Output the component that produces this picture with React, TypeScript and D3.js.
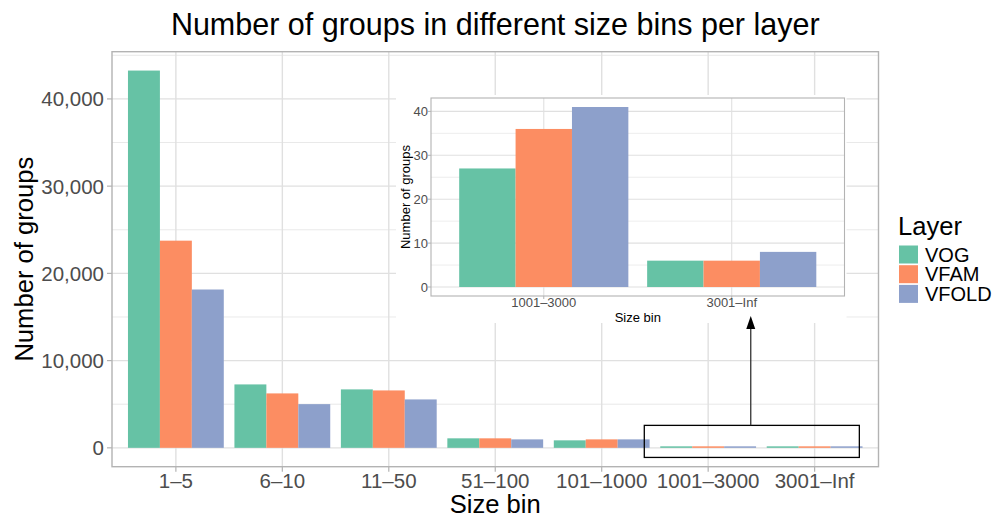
import React, { useEffect, useRef } from "react";
import * as d3 from "d3";

// size bins (x categories) and layers (dodged series)
const sizeBins = ["1–5", "6–10", "11–50", "51–100", "101–1000", "1001–3000", "3001–Inf"];
const layers = ["VOG", "VFAM", "VFOLD"];
const vogCounts = [43250, 7270, 6700, 1090, 860, 27, 6];
const vfamCounts = [23750, 6240, 6580, 1090, 970, 36, 6];
const vfoldCounts = [18150, 5010, 5550, 970, 970, 41, 8];
const layerColors = ["#66c2a5", "#fc8d62", "#8da0cb"];
const mainTicks = [0, 10000, 20000, 30000, 40000];
const mainMinorTicks = [5000, 15000, 25000, 35000, 45000];
// the zoomed inset shows the last two bins
const insetBins = ["1001–3000", "3001–Inf"];
const insetTicks = [0, 10, 20, 30, 40];
const insetMinorTicks = [5, 15, 25, 35];

const FONT = "'Liberation Sans', Arial, Helvetica, sans-serif";
const GRID = "#e0e0e0";
const BORDER = "#b3b3b3";
const TICK_TEXT = "#4d4d4d";

type Row = { bin: string; layer: string; value: number; color: string };

const App = () => {
  const ref = useRef<SVGSVGElement | null>(null);

  useEffect(() => {
    const width = 994;
    const height = 518;
    const svg = d3.select(ref.current);
    svg.selectAll("*").remove();

    const series = [vogCounts, vfamCounts, vfoldCounts];
    const rows: Row[] = [];
    sizeBins.forEach((bin, i) =>
      layers.forEach((layer, j) =>
        rows.push({ bin, layer, value: series[j][i], color: layerColors[j] })
      )
    );

    // ---- main panel ----
    const panel = { left: 112, right: 878.5, top: 51.7, bottom: 466.7 };
    const yMax = d3.max(rows, (d) => d.value) as number;

    const x = d3
      .scaleBand()
      .domain(sizeBins)
      .range([panel.left, panel.right])
      .paddingInner(0.1)
      .paddingOuter(0.15);
    const xInner = d3.scaleBand().domain(layers).range([0, x.bandwidth()]);
    const y = d3
      .scaleLinear()
      .domain([-0.05 * yMax, 1.05 * yMax])
      .range([panel.bottom, panel.top]);

    const main = svg.append("g");
    main
      .selectAll("line.minor")
      .data(mainMinorTicks.filter((t) => t <= y.domain()[1]))
      .enter()
      .append("line")
      .attr("x1", panel.left)
      .attr("x2", panel.right)
      .attr("y1", (d) => y(d))
      .attr("y2", (d) => y(d))
      .attr("stroke", GRID)
      .attr("stroke-width", 0.7);
    main
      .selectAll("line.major")
      .data(mainTicks)
      .enter()
      .append("line")
      .attr("x1", panel.left)
      .attr("x2", panel.right)
      .attr("y1", (d) => y(d))
      .attr("y2", (d) => y(d))
      .attr("stroke", GRID)
      .attr("stroke-width", 1.4);
    main
      .selectAll("line.vmajor")
      .data(sizeBins)
      .enter()
      .append("line")
      .attr("x1", (d) => (x(d) as number) + x.bandwidth() / 2)
      .attr("x2", (d) => (x(d) as number) + x.bandwidth() / 2)
      .attr("y1", panel.top)
      .attr("y2", panel.bottom)
      .attr("stroke", GRID)
      .attr("stroke-width", 1.4);

    // tiny bins still show as a hairline, as in the original render
    main
      .selectAll("rect.bar")
      .data(rows)
      .enter()
      .append("rect")
      .attr("x", (d) => (x(d.bin) as number) + (xInner(d.layer) as number))
      .attr("y", (d) => Math.min(y(d.value), y(0) - 1.5))
      .attr("width", xInner.bandwidth())
      .attr("height", (d) => Math.max(y(0) - y(d.value), 1.5))
      .attr("fill", (d) => d.color);

    main
      .append("rect")
      .attr("x", panel.left)
      .attr("y", panel.top)
      .attr("width", panel.right - panel.left)
      .attr("height", panel.bottom - panel.top)
      .attr("fill", "none")
      .attr("stroke", BORDER)
      .attr("stroke-width", 1.4);

    // y axis ticks + labels
    const fmt = d3.format(",");
    const yt = main.selectAll("g.yt").data(mainTicks).enter().append("g");
    yt.append("line")
      .attr("x1", panel.left - 5)
      .attr("x2", panel.left)
      .attr("y1", (d) => y(d))
      .attr("y2", (d) => y(d))
      .attr("stroke", BORDER)
      .attr("stroke-width", 1.2);
    yt.append("text")
      .attr("x", panel.left - 8)
      .attr("y", (d) => y(d))
      .attr("dy", "0.36em")
      .attr("text-anchor", "end")
      .attr("font-size", 20.5)
      .attr("fill", TICK_TEXT)
      .text((d) => fmt(d));

    // x axis ticks + labels
    const xt = main.selectAll("g.xt").data(sizeBins).enter().append("g");
    xt.append("line")
      .attr("x1", (d) => (x(d) as number) + x.bandwidth() / 2)
      .attr("x2", (d) => (x(d) as number) + x.bandwidth() / 2)
      .attr("y1", panel.bottom)
      .attr("y2", panel.bottom + 5)
      .attr("stroke", BORDER)
      .attr("stroke-width", 1.2);
    xt.append("text")
      .attr("x", (d) => (x(d) as number) + x.bandwidth() / 2)
      .attr("y", 488)
      .attr("text-anchor", "middle")
      .attr("font-size", 20.5)
      .attr("fill", TICK_TEXT)
      .text((d) => d);

    main
      .append("text")
      .attr("x", (panel.left + panel.right) / 2)
      .attr("y", 513)
      .attr("text-anchor", "middle")
      .attr("font-size", 25.6)
      .text("Size bin");
    main
      .append("text")
      .attr("transform", `translate(33, ${(panel.top + panel.bottom) / 2}) rotate(-90)`)
      .attr("text-anchor", "middle")
      .attr("font-size", 25.6)
      .text("Number of groups");

    // box around the tiny bins, in data units
    const xPos = (i: number) => (x(sizeBins[0]) as number) + x.bandwidth() / 2 + i * x.step();
    main
      .append("rect")
      .attr("x", xPos(4.4))
      .attr("y", y(2575))
      .attr("width", xPos(6.42) - xPos(4.4))
      .attr("height", y(-1100) - y(2575))
      .attr("fill", "none")
      .attr("stroke", "#000")
      .attr("stroke-width", 1.3);

    // ---- inset ----
    const ip = { left: 431, right: 844.5, top: 98, bottom: 296 };
    const insetRows = rows.filter((d) => insetBins.includes(d.bin));
    const iMax = d3.max(insetRows, (d) => d.value) as number;
    const ix = d3
      .scaleBand()
      .domain(insetBins)
      .range([ip.left, ip.right])
      .paddingInner(0.1)
      .paddingOuter(0.15);
    const ixInner = d3.scaleBand().domain(layers).range([0, ix.bandwidth()]);
    const iy = d3
      .scaleLinear()
      .domain([-0.05 * iMax, 1.05 * iMax])
      .range([ip.bottom, ip.top]);

    const inset = svg.append("g");
    inset
      .append("rect")
      .attr("x", ip.left - 35)
      .attr("y", ip.top - 3)
      .attr("width", ip.right - ip.left + 37)
      .attr("height", ip.bottom - ip.top + 30)
      .attr("fill", "#fff");
    inset
      .selectAll("line.minor")
      .data(insetMinorTicks)
      .enter()
      .append("line")
      .attr("x1", ip.left)
      .attr("x2", ip.right)
      .attr("y1", (d) => iy(d))
      .attr("y2", (d) => iy(d))
      .attr("stroke", GRID)
      .attr("stroke-width", 0.6);
    inset
      .selectAll("line.major")
      .data(insetTicks)
      .enter()
      .append("line")
      .attr("x1", ip.left)
      .attr("x2", ip.right)
      .attr("y1", (d) => iy(d))
      .attr("y2", (d) => iy(d))
      .attr("stroke", GRID)
      .attr("stroke-width", 1.1);
    inset
      .selectAll("line.vmajor")
      .data(insetBins)
      .enter()
      .append("line")
      .attr("x1", (d) => (ix(d) as number) + ix.bandwidth() / 2)
      .attr("x2", (d) => (ix(d) as number) + ix.bandwidth() / 2)
      .attr("y1", ip.top)
      .attr("y2", ip.bottom)
      .attr("stroke", GRID)
      .attr("stroke-width", 1.1);
    inset
      .selectAll("rect.bar")
      .data(insetRows)
      .enter()
      .append("rect")
      .attr("x", (d) => (ix(d.bin) as number) + (ixInner(d.layer) as number))
      .attr("y", (d) => iy(d.value))
      .attr("width", ixInner.bandwidth())
      .attr("height", (d) => iy(0) - iy(d.value))
      .attr("fill", (d) => d.color);
    inset
      .append("rect")
      .attr("x", ip.left)
      .attr("y", ip.top)
      .attr("width", ip.right - ip.left)
      .attr("height", ip.bottom - ip.top)
      .attr("fill", "none")
      .attr("stroke", BORDER)
      .attr("stroke-width", 1.1);

    const iyt = inset.selectAll("g.yt").data(insetTicks).enter().append("g");
    iyt.append("line")
      .attr("x1", ip.left - 3)
      .attr("x2", ip.left)
      .attr("y1", (d) => iy(d))
      .attr("y2", (d) => iy(d))
      .attr("stroke", BORDER);
    iyt.append("text")
      .attr("x", ip.left - 3)
      .attr("y", (d) => iy(d))
      .attr("dy", "0.36em")
      .attr("text-anchor", "end")
      .attr("font-size", 13)
      .attr("fill", TICK_TEXT)
      .text((d) => d);
    const ixt = inset.selectAll("g.xt").data(insetBins).enter().append("g");
    ixt.append("line")
      .attr("x1", (d) => (ix(d) as number) + ix.bandwidth() / 2)
      .attr("x2", (d) => (ix(d) as number) + ix.bandwidth() / 2)
      .attr("y1", ip.bottom)
      .attr("y2", ip.bottom + 3)
      .attr("stroke", BORDER);
    ixt.append("text")
      .attr("x", (d) => (ix(d) as number) + ix.bandwidth() / 2)
      .attr("y", 306.7)
      .attr("text-anchor", "middle")
      .attr("font-size", 13)
      .attr("fill", TICK_TEXT)
      .text((d) => d);
    inset
      .append("text")
      .attr("x", (ip.left + ip.right) / 2)
      .attr("y", 321.7)
      .attr("text-anchor", "middle")
      .attr("font-size", 13)
      .text("Size bin");
    inset
      .append("text")
      .attr("transform", `translate(409.5, ${(ip.top + ip.bottom) / 2}) rotate(-90)`)
      .attr("text-anchor", "middle")
      .attr("font-size", 13)
      .text("Number of groups");

    // arrow from the box up to the inset
    const ax = xPos(5.4);
    const tipY = y(15100);
    svg
      .append("line")
      .attr("x1", ax)
      .attr("x2", ax)
      .attr("y1", y(2575))
      .attr("y2", tipY + 10)
      .attr("stroke", "#333")
      .attr("stroke-width", 1.3);
    svg
      .append("path")
      .attr("d", `M${ax},${tipY} L${ax - 4.5},${tipY + 13} L${ax + 4.5},${tipY + 13} Z`)
      .attr("fill", "#000");

    // ---- legend ----
    const legend = svg.append("g").attr("transform", "translate(898, 0)");
    legend
      .append("text")
      .attr("x", 0)
      .attr("y", 235)
      .attr("font-size", 25.6)
      .text("Layer");
    const item = legend.selectAll("g.item").data(layers).enter().append("g");
    item
      .append("rect")
      .attr("x", 1)
      .attr("y", (d, i) => 245.5 + i * 19.7)
      .attr("width", 19)
      .attr("height", 18)
      .attr("fill", (d, i) => layerColors[i]);
    item
      .append("text")
      .attr("x", 27)
      .attr("y", (d, i) => 254.5 + i * 19.7)
      .attr("dy", "0.35em")
      .attr("font-size", 20)
      .text((d) => d);

    // ---- title ----
    svg
      .append("text")
      .attr("x", (panel.left + panel.right) / 2)
      .attr("y", 35)
      .attr("text-anchor", "middle")
      .attr("font-size", 30.5)
      .text("Number of groups in different size bins per layer");

    svg.attr("width", width).attr("height", height);
  }, []);

  return (
    <div>
      <svg
        ref={ref}
        width={994}
        height={518}
        style={{ position: "absolute", left: 0, top: 0, background: "#fff", fontFamily: FONT }}
      />
    </div>
  );
};

export default App;
